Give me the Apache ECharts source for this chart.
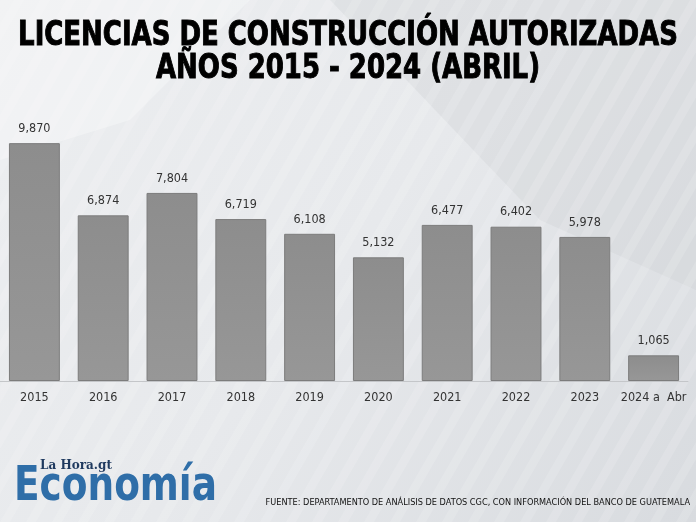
<!DOCTYPE html>
<html><head><meta charset="utf-8">
<script src="https://cdn.jsdelivr.net/npm/echarts@6/dist/echarts.min.js"></script>
<style>html,body{margin:0;padding:0;}#c{width:696px;height:522px;}</style>
</head><body><div id="c"></div>
<script>
const categories = ['2015','2016','2017','2018','2019','2020','2021','2022','2023','2024 a  Abr'];
const values = [9870, 6874, 7804, 6719, 6108, 5132, 6477, 6402, 5978, 1065];
const titleLines = ['LICENCIAS DE CONSTRUCCIÓN AUTORIZADAS', 'AÑOS 2015 - 2024 (ABRIL)'];
const sourceText = 'FUENTE: DEPARTAMENTO DE ANÁLISIS DE DATOS CGC, CON INFORMACIÓN DEL BANCO DE GUATEMALA';

const cv = document.createElement('canvas').getContext('2d');
function fit(text, family, weight, target) {
  cv.font = weight + ' 100px "' + family + '"';
  return 100 * target / cv.measureText(text).width;
}
const COND = 'DejaVu Sans Condensed';
const titleSize = fit(titleLines[0], COND, 'bold', 660);
const srcSize = fit(sourceText, COND, 'normal', 425);
const ecoSize = fit('Economía', COND, 'bold', 203);

const chart = echarts.init(document.getElementById('c'), null, {renderer: 'canvas'});

const stripes = [];
for (let i = -12; i < 40; i++) {
  const x0 = i * 26;
  stripes.push({
    type: 'polygon', silent: true, z: -9,
    shape: {points: [[x0, 522], [x0 + 10, 522], [x0 + 10 + 300, 0], [x0 + 300, 0]]},
    style: {fill: 'rgba(255,255,255,0.14)'}
  });
}

function titleText(t, y) {
  return {type: 'text', x: 348, y: y, z: 10, scaleY: 1.17, scaleX: 1,
    style: {text: t, align: 'center', verticalAlign: 'top', fontFamily: COND, fontWeight: 'bold',
            fontSize: titleSize, fill: '#000', stroke: '#000', lineWidth: 0.8}};
}

chart.setOption({
  animation: false,
  backgroundColor: {
    type: 'linear', x: 0, y: 0, x2: 1, y2: 1,
    colorStops: [
      {offset: 0, color: '#eceef0'},
      {offset: 0.5, color: '#e7e9ec'},
      {offset: 1, color: '#d8dbdf'}
    ]
  },
  graphic: [
    {type: 'polygon', silent: true, z: -10,
     shape: {points: [[330, 0], [696, 0], [696, 290], [540, 220]]},
     style: {fill: 'rgba(205,208,213,0.35)'}},
    {type: 'polygon', silent: true, z: -10,
     shape: {points: [[0, 0], [250, 0], [130, 120], [0, 160]]},
     style: {fill: 'rgba(255,255,255,0.3)'}}
  ].concat(stripes).concat([
    titleText(titleLines[0], 19),
    titleText(titleLines[1], 52),
    {type: 'text', left: 40, top: 460, z: 10,
     style: {text: 'La Hora.gt', fontFamily: 'DejaVu Serif', fontWeight: 'bold', fontSize: 12, fill: '#1f3a5f'}},
    {type: 'text', x: 14, y: 463, z: 10, scaleY: 1.15,
     style: {text: 'Economía', verticalAlign: 'top', fontFamily: COND, fontWeight: 'bold', fontSize: ecoSize, fill: '#2f6ea8'}},
    {type: 'text', right: 6, top: 498, z: 10,
     style: {text: sourceText, fontFamily: COND, fontSize: srcSize, fill: '#111'}}
  ]),
  grid: {left: 0, right: 8, top: 140, bottom: 141},
  xAxis: {
    type: 'category', data: categories,
    axisLine: {show: true, lineStyle: {color: '#c4c6c9', width: 1}},
    axisTick: {show: false},
    axisLabel: {interval: 0, color: '#333', fontFamily: COND, fontSize: 12.5, margin: 10}
  },
  yAxis: {type: 'value', min: 0, max: 10000, show: false, splitLine: {show: false}},
  series: [{
    type: 'bar', data: values, barCategoryGap: '26%',
    itemStyle: {
      color: {type: 'linear', x: 0, y: 0, x2: 0, y2: 1,
        colorStops: [{offset: 0, color: '#8d8d8d'}, {offset: 1, color: '#979797'}]},
      borderColor: '#7c7c7c', borderWidth: 1
    },
    label: {
      show: true, position: 'top', distance: 8, color: '#333',
      fontFamily: COND, fontSize: 12.5,
      formatter: p => p.value.toLocaleString('en-US')
    }
  }]
});
</script></body></html>
